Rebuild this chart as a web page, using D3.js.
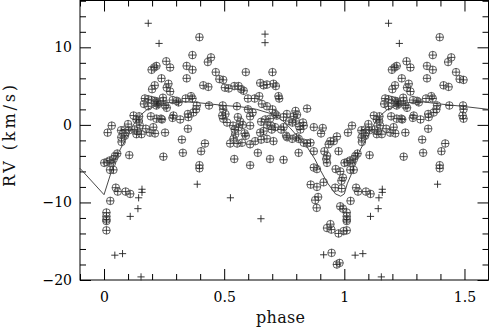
<!DOCTYPE html>
<html>
<head>
<meta charset="utf-8">
<script src="https://cdn.jsdelivr.net/npm/d3@7"></script>
<style>
body { margin: 0; background: #fff; }
text { font-family: "DejaVu Serif", serif; fill: #000; }
</style>
</head>
<body>
<svg id="chart" width="489" height="330"></svg>
<script>
// [phase, RV] pairs, one cycle (0..1)
const ringPts = [
  [0.001,-4.9],[0.012,-4.8],[0.023,-4.6],[0.033,-4.9],[0.040,-4.4],[0.025,-5.8],[0.039,-5.8],[0.046,-4.0],[0.055,-3.7],[0.073,-2.2],
  [0.072,-1.6],[0.079,-1.1],[0.087,-1.4],[0.088,-0.6],[0.100,0.1],[0.104,-0.7],[0.032,-0.1],[0.015,-1.0],[0.071,-0.7],[0.105,-3.9],
  [0.049,-8.1],[0.057,-8.6],[0.090,-8.6],[0.109,-8.9],[0.026,-9.8],[0.010,-11.3],[0.010,-11.8],[0.010,-12.2],[0.010,-12.4],[0.010,-13.6],
  [0.123,1.2],[0.146,1.1],[0.135,0.7],[0.145,0.5],[0.126,-0.6],[0.139,-0.8],[0.149,-0.1],[0.135,-1.2],[0.156,-1.2],[0.174,-0.5],
  [0.205,-0.3],[0.191,-1.0],[0.212,-1.1],[0.195,1.1],[0.218,0.8],[0.237,0.8],[0.166,2.7],[0.184,2.4],[0.218,2.5],[0.170,3.4],
  [0.184,3.3],[0.198,3.2],[0.212,3.1],[0.222,2.8],[0.219,3.0],[0.225,2.7],[0.200,4.6],[0.211,5.1],[0.198,7.1],[0.209,7.4],
  [0.218,7.6],[0.239,6.0],[0.259,8.2],[0.275,7.4],[0.268,5.3],[0.261,4.8],[0.275,4.3],[0.245,3.5],[0.247,3.1],[0.254,2.5],
  [0.261,2.2],[0.286,3.2],[0.303,3.1],[0.310,2.9],[0.340,3.4],[0.362,3.7],[0.368,3.4],[0.386,2.5],[0.383,2.0],[0.372,1.6],
  [0.349,1.4],[0.351,1.0],[0.317,0.7],[0.289,1.2],[0.285,0.9],[0.241,0.7],[0.349,-0.5],[0.254,-1.0],[0.324,-1.9],[0.247,-4.1],
  [0.328,-3.6],[0.344,7.6],[0.368,7.1],[0.344,6.0],[0.368,9.0],[0.397,11.3],[0.404,-3.4],[0.420,-2.4],[0.397,-5.2],[0.397,-5.6],
  [0.413,5.1],[0.434,4.9],[0.445,8.7],[0.432,8.1],[0.437,2.5],[0.465,6.8],[0.480,5.9],[0.496,5.8],[0.503,4.8],[0.519,4.7],
  [0.494,2.5],[0.496,2.0],[0.492,1.2],[0.496,0.8],[0.505,1.4],[0.512,0.3],[0.553,2.4],[0.542,5.0],[0.560,5.0],[0.571,4.6],
  [0.581,4.4],[0.557,1.0],[0.567,0.4],[0.577,0.0],[0.537,-0.1],[0.544,-0.6],[0.560,-0.3],[0.546,-1.2],[0.539,-1.8],[0.585,-1.1],
  [0.590,-1.4],[0.525,-2.4],[0.574,-2.3],[0.554,-2.4],[0.608,-2.5],[0.542,-4.4],[0.608,-5.2],[0.590,6.8],[0.599,3.4],[0.627,3.4],
  [0.646,3.7],[0.599,2.0],[0.618,1.6],[0.608,1.1],[0.608,-0.1],[0.640,-3.6],[0.629,-2.1],[0.650,5.4],[0.664,5.1],[0.678,5.2],
  [0.705,5.3],[0.715,5.0],[0.701,6.8],[0.726,3.7],[0.729,3.4],[0.657,2.7],[0.678,2.4],[0.701,2.0],[0.671,0.7],[0.691,0.8],
  [0.712,1.4],[0.719,1.2],[0.654,0.4],[0.678,0.0],[0.695,-0.1],[0.650,-1.0],[0.664,-0.8],[0.698,-0.6],[0.712,-0.3],[0.737,-0.6],
  [0.747,-0.3],[0.747,1.0],[0.761,1.4],[0.654,-1.9],[0.678,-1.8],[0.705,-2.1],[0.758,-1.4],[0.691,-4.4],[0.747,-4.5],[0.770,0.5],
  [0.784,0.3],[0.798,0.5],[0.797,1.8],[0.803,1.3],[0.790,1.1],[0.845,2.1],[0.812,-0.2],[0.817,-0.6],[0.828,0.3],[0.831,-0.1],
  [0.762,-1.6],[0.783,-1.8],[0.801,-1.6],[0.810,-1.8],[0.831,-2.3],[0.845,-2.4],[0.810,-3.6],[0.873,-0.3],[0.910,-0.4],[0.903,-1.1],
  [0.859,-2.3],[0.873,-3.4],[0.917,-3.4],[0.928,-4.0],[0.925,-4.4],[0.928,-4.9],[0.935,-2.5],[0.942,-2.1],[0.956,-2.1],[0.969,-1.5],
  [0.976,-3.4],[0.873,-5.5],[0.886,-5.7],[0.914,-7.4],[0.962,-8.1],[0.989,-8.2],[0.860,-7.7],[0.886,-8.0],[0.964,-5.7],[0.983,-6.0],
  [0.994,-6.8],[0.988,-7.2],[0.879,-9.7],[0.891,-9.3],[0.885,-10.7],[0.983,-10.5],[0.994,-10.8],[0.942,-12.8],[0.928,-13.3],[0.946,-13.5],
  [0.976,-14.0],[0.997,-13.7],[0.947,-16.5],[0.980,-17.8],[0.969,-18.0]
]

const plusPts = [
  [0.184,13.1],[0.229,10.5],[0.670,11.7],[0.670,10.6],[0.045,-16.8],[0.077,-16.6],[0.109,-11.8],[0.141,-10.8],
  [0.144,-9.4],[0.158,-8.7],[0.158,-8.3],[0.154,-19.6],[0.388,-7.65],[0.526,-9.4],[0.653,-12.1],[0.914,-16.75]
]

const curvePhase = [-0.1, 0, 0.047, 0.07, 0.09, 0.122, 0.15, 0.18, 0.22, 0.26, 0.32, 0.38, 0.44, 0.5, 0.565, 0.635,
  0.70, 0.745, 0.773, 0.80, 0.842, 0.877, 0.898, 0.928, 0.963, 0.985, 1.0, 1.012, 1.03, 1.047, 1.07, 1.09, 1.122,
  1.15, 1.18, 1.22, 1.26, 1.32, 1.396, 1.49, 1.6]
const curveRV = [-5.6, -9.0, -4.4, -3.0, -1.9, 0.0, 1.2, 2.0, 2.5, 2.85, 3.0, 2.9, 2.7, 2.5, 2.35, 2.0,
  1.4, 0.5, -0.35, -1.3, -2.7, -4.4, -5.7, -7.4, -8.9, -9.2, -8.9, -7.6, -6.3, -4.4, -3.0, -1.9, 0.0,
  1.2, 2.0, 2.5, 2.85, 3.0, 2.7, 2.4, 2.0]

const xMajor = [0, 0.5, 1, 1.5]
const yMajor = [-20, -10, 0, 10]

const svg = d3.select('#chart')
const padLeft = 80, padRight = 488.5, padTop = 0.5, padBottom = 280

const x = d3.scaleLinear().domain([-0.1, 1.6]).range([padLeft, padRight])
const y = d3.scaleLinear().domain([-20, 16.1]).range([padBottom, 0])

// the plot repeats phases 0..0.5 once more at 1..1.5
const wrap = (pts) => pts.concat(pts.filter(d => d[0] < 0.5).map(d => [d[0] + 1, d[1]]))
const rings = wrap(ringPts)
const pluses = wrap(plusPts)

const xMinor = d3.range(-1, 17).map(i => i / 10).filter(v => xMajor.indexOf(v) == -1)
const yMinor = d3.range(-20, 17, 2).filter(v => yMajor.indexOf(v) == -1)

const fmt = (d) => d3.format('')(d).replace('-', '\u2212')

function axes() {
  const bx = svg.append('g').attr('transform', `translate(0, ${padBottom})`)
  bx.call(d3.axisBottom(x).tickValues(xMajor).tickSize(-11).tickPadding(12).tickFormat(fmt))
  bx.append('g').call(d3.axisBottom(x).tickValues(xMinor).tickSize(-6).tickFormat(''))

  const tx = svg.append('g').attr('transform', `translate(0, ${padTop})`)
  tx.call(d3.axisTop(x).tickValues(xMajor).tickSize(-11).tickFormat(''))
  tx.append('g').call(d3.axisTop(x).tickValues(xMinor).tickSize(-6).tickFormat(''))

  const ly = svg.append('g').attr('transform', `translate(${padLeft}, 0)`)
  ly.call(d3.axisLeft(y).tickValues(yMajor).tickSize(-11).tickPadding(8).tickFormat(fmt))
  ly.append('g').call(d3.axisLeft(y).tickValues(yMinor).tickSize(-6).tickFormat(''))

  const ry = svg.append('g').attr('transform', `translate(${padRight}, 0)`)
  ry.call(d3.axisRight(y).tickValues(yMajor).tickSize(-11).tickFormat(''))
  ry.append('g').call(d3.axisRight(y).tickValues(yMinor).tickSize(-6).tickFormat(''))

  svg.selectAll('.domain').remove()
  svg.selectAll('.tick line').attr('stroke', '#000').attr('stroke-width', 1)
  svg.selectAll('.tick text')
    .style('font-family', '"DejaVu Serif", serif')
    .style('font-size', '14px')
    .attr('fill', '#111')

  svg.append('rect')
    .attr('x', padLeft).attr('y', padTop)
    .attr('width', padRight - padLeft).attr('height', padBottom - padTop)
    .attr('fill', 'none').attr('stroke', '#000').attr('stroke-width', 1)

  svg.append('text')
    .attr('x', 280.5).attr('y', 323)
    .attr('text-anchor', 'middle')
    .attr('textLength', 49)
    .style('font-size', '16px')
    .style('fill', '#111')
    .text('phase')

  svg.append('text')
    .attr('transform', 'translate(15, 136) rotate(-90)')
    .attr('text-anchor', 'middle')
    .attr('textLength', 102)
    .style('font-size', '16px')
    .style('fill', '#111')
    .text('RV (km/s)')
}

function marks() {
  const line = d3.line().x(d => x(d[0])).y(d => y(d[1]))
  svg.append('path')
    .datum(d3.zip(curvePhase, curveRV))
    .attr('d', line)
    .attr('fill', 'none')
    .attr('stroke', '#333')
    .attr('stroke-width', 0.9)

  const r = 3.8
  const ring = svg.append('g').selectAll('g.ring')
    .data(rings).enter().append('g')
    .attr('class', 'ring')
    .attr('transform', d => `translate(${x(d[0])}, ${y(d[1])})`)
    .attr('fill', 'none')
  ring.append('circle').attr('r', r)
    .attr('stroke', '#555').attr('stroke-width', 0.9)
  ring.append('path').attr('d', `M${-r},0H${r}M0,${-r}V${r}`)
    .attr('stroke', '#222').attr('stroke-width', 0.8)

  const p = 3.6
  svg.append('g').selectAll('path.plus')
    .data(pluses).enter().append('path')
    .attr('class', 'plus')
    .attr('transform', d => `translate(${x(d[0])}, ${y(d[1])})`)
    .attr('d', `M${-p},0H${p}M0,${-p}V${p}`)
    .attr('stroke', '#222').attr('stroke-width', 0.9)
}

axes()
marks()
</script>
</body>
</html>
